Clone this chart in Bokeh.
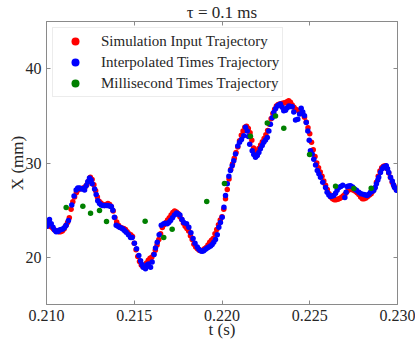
import numpy as np
from bokeh.plotting import figure
from bokeh.models import FixedTicker, PrintfTickFormatter, LinearAxis, Range1d, Legend, LegendItem
from bokeh.embed import file_html
from bokeh.resources import INLINE

# ---------------- data ----------------
# Simulation input trajectory: sampled every tau = 0.1 ms starting at 0.210 s
t_red_start = 0.210
t_red_step = 0.0001
x_red = [23.3, 23.4, 23.3, 23.2, 23.0, 22.85, 22.8, 22.7, 22.7, 22.8,
         23.0, 23.35, 23.7, 24.2, 25.1, 25.9, 26.4, 26.85, 27.15, 27.3,
         27.3, 27.35, 27.45, 27.7, 28.1, 28.5, 28.25, 27.7, 27.05, 26.4,
         25.95, 25.75, 25.6, 25.5, 25.6, 25.7, 25.6, 25.35, 24.9, 24.2,
         23.75, 23.4, 23.2, 23.1, 23.05, 22.95, 22.7, 22.5, 22.4, 22.2,
         21.5, 20.8, 20.1, 19.55, 19.2, 19.0, 19.05, 19.4, 19.7, 19.9,
         20.0, 20.3, 20.75, 21.3, 21.9, 22.5, 23.15, 23.45, 23.7, 23.95,
         24.2, 24.5, 24.75, 24.9, 24.8, 24.65, 24.3, 24.0, 23.6, 23.3,
         23.05, 22.8, 22.3, 21.9, 21.4, 21.1, 20.9, 20.75, 20.7, 20.75,
         20.9, 21.05, 21.3, 21.6, 21.8, 22.0, 22.5, 22.95, 23.45, 23.95,
         24.3, 25.1, 26.2, 27.2, 28.3, 29.3, 29.9, 30.5, 31.1, 31.7,
         32.35, 32.95, 33.4, 33.8, 33.9, 33.65, 33.2, 32.4, 31.6, 31.25,
         31.25, 31.55, 31.9, 32.25, 32.6, 33.0, 33.45, 34.1, 34.7, 35.25,
         35.7, 36.05, 36.2, 36.25, 36.3, 36.35, 36.4, 36.5, 36.6, 36.45,
         36.15, 35.9, 35.7, 35.6, 35.55, 35.45, 35.2, 34.85, 34.35, 33.75,
         33.1, 32.2, 31.4, 30.7, 30.0, 29.5, 29.05, 28.6, 28.1, 27.65,
         27.2, 26.75, 26.4, 26.2, 26.1, 26.1, 26.15, 26.25, 26.35, 26.5,
         26.65, 26.9, 27.1, 27.25, 27.2, 27.1, 27.0, 26.85, 26.65, 26.4,
         26.2, 26.2, 26.3, 26.45, 26.6, 26.75, 27.0, 27.35, 27.95, 28.6,
         29.15, 29.5, 29.65, 29.7, 29.4, 28.95, 28.45, 27.95, 27.55, 27.3,
         27.1]
t_red = [round(t_red_start + i * t_red_step, 4) for i in range(len(x_red))]

# Interpolated times trajectory
t_blue = [0.21003, 0.21011, 0.21017, 0.21027, 0.21037, 0.21046, 0.21055, 0.21066, 0.21074, 0.21084,
          0.21093, 0.21103, 0.21112, 0.21125, 0.21144, 0.21157, 0.21169, 0.21178, 0.21188, 0.21198,
          0.21208, 0.21217, 0.21226, 0.21235, 0.21245, 0.21254, 0.21260, 0.21274, 0.21283, 0.21292,
          0.21302, 0.21312, 0.21321, 0.21330, 0.21340, 0.21349, 0.21359, 0.21369, 0.21378, 0.21387,
          0.21397, 0.21407, 0.21416, 0.21426, 0.21436, 0.21444, 0.21454, 0.21467, 0.21479, 0.21488,
          0.21501, 0.21513, 0.21526, 0.21536, 0.21544, 0.21551, 0.21564, 0.21573, 0.21581, 0.21593,
          0.21602, 0.21613, 0.21621, 0.21631, 0.21642, 0.21654, 0.21668, 0.21678, 0.21688, 0.21697,
          0.21707, 0.21718, 0.21729, 0.21741, 0.21750, 0.21760, 0.21772, 0.21782, 0.21798, 0.21811,
          0.21823, 0.21835, 0.21846, 0.21859, 0.21868, 0.21878, 0.21887, 0.21896, 0.21906, 0.21916,
          0.21925, 0.21935, 0.21944, 0.21953, 0.21963, 0.21973, 0.21982, 0.21991, 0.22001, 0.22011,
          0.22020, 0.22030, 0.22039, 0.22048, 0.22058, 0.22067, 0.22077, 0.22090, 0.22100, 0.22111,
          0.22124, 0.22134, 0.22144, 0.22151, 0.22158, 0.22172, 0.22181, 0.22191, 0.22201, 0.22210,
          0.22219, 0.22229, 0.22238, 0.22248, 0.22258, 0.22267, 0.22276, 0.22286, 0.22295, 0.22305,
          0.22315, 0.22324, 0.22333, 0.22343, 0.22352, 0.22362, 0.22372, 0.22381, 0.22390, 0.22400,
          0.22409, 0.22419, 0.22432, 0.22442, 0.22451, 0.22460, 0.22470, 0.22480, 0.22489, 0.22497,
          0.22504, 0.22514, 0.22523, 0.22533, 0.22543, 0.22552, 0.22561, 0.22574, 0.22590, 0.22599,
          0.22609, 0.22618, 0.22628, 0.22637, 0.22647, 0.22656, 0.22666, 0.22677, 0.22688, 0.22700,
          0.22707, 0.22713, 0.22723, 0.22732, 0.22744, 0.22755, 0.22766, 0.22780, 0.22793, 0.22808,
          0.22818, 0.22827, 0.22837, 0.22846, 0.22856, 0.22865, 0.22873, 0.22880, 0.22888, 0.22893,
          0.22903, 0.22913, 0.22922, 0.22936, 0.22943, 0.22950, 0.22960, 0.22970, 0.22977, 0.22983,
          0.22994]
x_blue = [23.3, 23.6, 24.0, 23.55, 23.2, 22.9, 22.7, 22.75, 22.9, 22.95,
          23.0, 23.15, 23.4, 23.9, 25.55, 26.5, 27.15, 27.35, 27.35, 27.25,
          27.3, 27.15, 27.6, 28.0, 28.4, 28.2, 27.8, 27.25, 26.65, 26.0,
          25.7, 25.55, 25.5, 25.5, 25.5, 25.5, 25.45, 25.4, 25.0, 24.25,
          23.4, 23.3, 23.2, 23.1, 23.0, 22.85, 22.65, 22.4, 22.1, 22.1,
          21.5, 20.9, 20.2, 19.65, 19.25, 18.95, 18.8, 19.2, 19.3, 18.95,
          19.5, 20.3, 21.0, 21.6, 22.4, 23.4, 23.55, 23.6, 23.55, 23.7,
          23.9, 24.2, 24.5, 24.7, 24.6, 24.5, 24.0, 23.7, 23.55, 23.2,
          22.6, 22.0, 21.5, 21.1, 20.85, 20.7, 20.65, 20.7, 20.85, 21.0,
          21.1, 21.2, 21.35, 21.6, 21.9, 22.4, 23.2, 23.7, 24.25, 25.3,
          26.55, 27.8, 28.6, 29.2, 29.7, 30.25, 30.95, 31.8, 32.2, 32.5,
          32.9, 33.8, 33.4, 32.8, 32.0, 31.3, 30.9, 30.6, 30.8, 31.1,
          31.5, 31.85, 32.2, 32.45, 32.7, 33.4, 34.1, 34.8, 35.35, 35.75,
          36.05, 36.15, 36.25, 35.9, 35.55, 35.6, 35.85, 36.05, 36.0, 35.95,
          35.4, 34.55, 34.65, 35.2, 35.8, 35.4, 35.0, 34.3, 33.4, 32.4,
          31.3, 30.95, 30.4, 29.8, 29.2, 28.85, 28.5, 27.95, 27.4, 26.9,
          26.6, 26.45, 26.5, 26.55, 26.8, 27.1, 27.4, 27.5, 27.65, 26.35,
          26.9, 27.5, 27.55, 27.6, 27.45, 27.25, 27.1, 26.9, 26.75, 26.65,
          26.6, 26.55, 26.7, 26.9, 27.0, 27.1, 27.4, 27.8, 28.2, 28.5,
          29.0, 29.4, 29.6, 29.7, 29.4, 29.0, 28.5, 28.1, 27.7, 27.4,
          27.1]

# Millisecond times trajectory
t_green = [0.21112, 0.21207, 0.21251, 0.21302, 0.21342, 0.21562, 0.21668, 0.21716, 0.21913,
           0.22014, 0.22162, 0.22258, 0.22305, 0.22352, 0.22499, 0.22647, 0.22751, 0.22850]
x_green = [25.28, 25.41, 24.67, 24.96, 23.79, 23.82, 22.10, 22.98, 25.91,
           27.82, 32.83, 34.25, 34.99, 33.68, 30.89, 27.53, 27.29, 27.32]

x_ticks = [0.210, 0.215, 0.220, 0.225, 0.230]
y_ticks = [20, 30, 40]
legend_labels = ["Simulation Input Trajectory", "Interpolated Times Trajectory",
                 "Millisecond Times Trajectory"]
title_text = "τ = 0.1 ms"
x_label = "t (s)"
y_label = "X (mm)"

# ---------------- figure ----------------
FONT = "Liberation Serif"
AX = "#8a8a8a"
TXT = "#262626"

p = figure(width=415, height=341, output_backend="svg", toolbar_location=None,
           x_range=Range1d(0.210, 0.230), y_range=Range1d(15, 45),
           min_border_left=46, min_border_right=18, min_border_top=21, min_border_bottom=37,
           x_axis_location=None, y_axis_location=None)
p.grid.visible = False
p.outline_line_color = AX
p.background_fill_color = "white"
p.border_fill_color = "white"

p.title.text = title_text
p.title.align = "center"
p.title.text_font = FONT
p.title.text_font_size = "17px"
p.title.text_font_style = "normal"
p.title.text_color = TXT
p.title.standoff = 0
p.title.offset = 0


def make_axis(ticks, fmt, show_labels, label=None):
    ax = LinearAxis(ticker=FixedTicker(ticks=ticks), formatter=PrintfTickFormatter(format=fmt))
    ax.axis_line_color = AX
    ax.major_tick_line_color = AX
    ax.major_tick_in = 4
    ax.major_tick_out = 0
    ax.minor_tick_line_color = None
    ax.major_label_text_font = FONT
    ax.major_label_text_font_size = "16px"
    ax.major_label_text_color = TXT
    ax.major_label_standoff = 5
    if label is not None:
        ax.axis_label = label
        ax.axis_label_text_font = FONT
        ax.axis_label_text_font_size = "17px"
        ax.axis_label_text_font_style = "normal"
        ax.axis_label_text_color = TXT
        ax.axis_label_standoff = -4
    if not show_labels:
        ax.major_label_text_alpha = 0
        ax.major_label_text_font_size = "1px"
        ax.major_label_standoff = 0
    return ax


p.add_layout(make_axis(x_ticks, "%.3f", True, x_label), "below")
p.add_layout(make_axis(y_ticks, "%d", True, y_label), "left")
p.add_layout(make_axis(x_ticks, "%.3f", False), "above")
p.add_layout(make_axis(y_ticks, "%d", False), "right")

r_red = p.scatter(t_red, x_red, size=5.5, color="red", line_color=None)
r_blue = p.scatter(t_blue, x_blue, size=5.5, color="blue", line_color=None)
r_green = p.scatter(t_green, x_green, size=5.5, color="green", line_color=None)

legend = Legend(items=[LegendItem(label=legend_labels[0], renderers=[r_red]),
                       LegendItem(label=legend_labels[1], renderers=[r_blue]),
                       LegendItem(label=legend_labels[2], renderers=[r_green])],
                location="top_left")
legend.margin = 6
legend.padding = 3
legend.spacing = 1
legend.glyph_width = 38
legend.glyph_height = 20
legend.label_height = 20
legend.label_standoff = 7
legend.label_text_font = FONT
legend.label_text_font_size = "15px"
legend.label_text_color = TXT
legend.border_line_color = "#d9d9d9"
legend.border_line_width = 1
legend.background_fill_color = "white"
legend.background_fill_alpha = 0.85
p.add_layout(legend, "center")

open("out.html", "w").write(file_html(p, INLINE))
